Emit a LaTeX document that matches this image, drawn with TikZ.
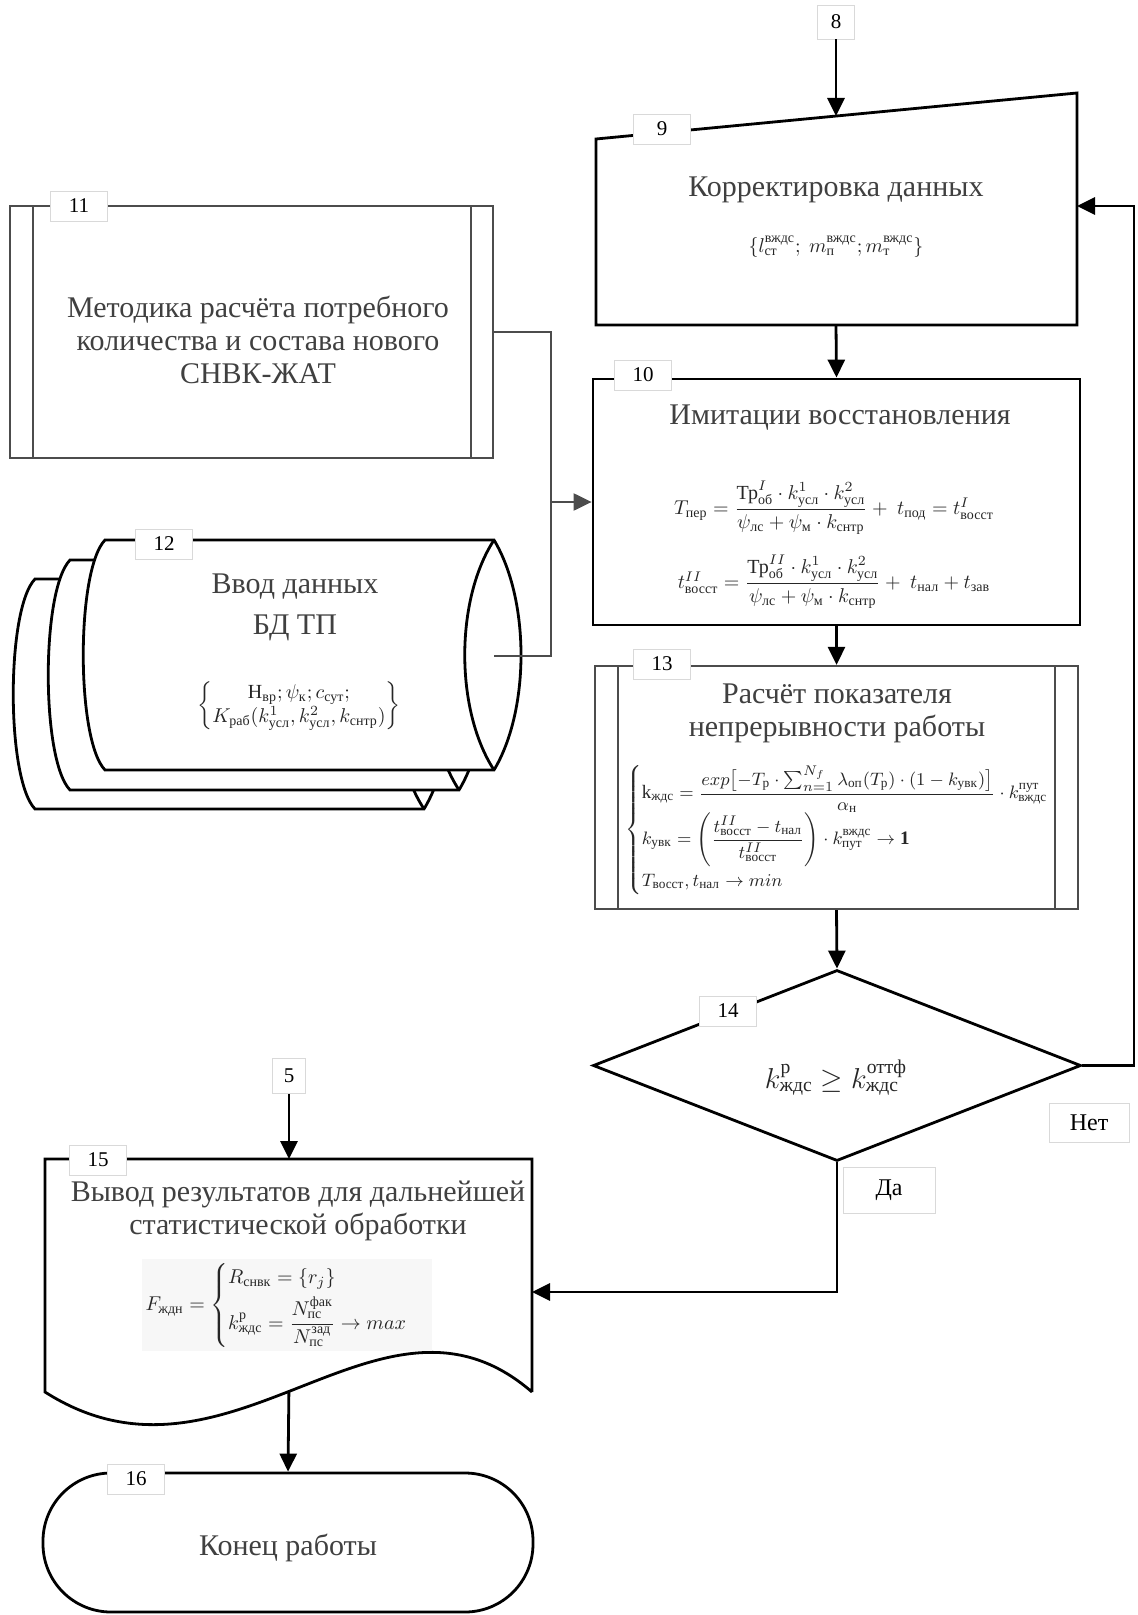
\documentclass[tikz,border=0pt]{standalone}
\usepackage{fontspec}
\setmainfont{Liberation Serif}
\usepackage{amsmath}
\usetikzlibrary{arrows.meta,fit,shapes.geometric}

\newcommand{\cy}[1]{\text{#1}}

\begin{document}
\begin{tikzpicture}[x=0.5pt, y=-0.5pt, >={Triangle[length=9pt,width=8.5pt]},
    blk/.style={draw=black, line width=1.4pt},
    gblk/.style={draw=black!70, line width=1.1pt},
    con/.style={line width=1.4pt},
    gcon/.style={draw=black!70, line width=1.1pt},
    tab/.style={draw=black!15, fill=white, line width=0.4pt, inner sep=1pt,
        minimum width=28.5pt, minimum height=15pt, font=\fontsize{10.5}{12}\selectfont},
    ttl/.style={align=center, text=black!75, font=\fontsize{15}{16.5}\selectfont},
    frm/.style={text=black!85, font=\fontsize{10}{12}\selectfont}]

    \useasboundingbox (0,0) rectangle (1138,1615);

    % --- ПРАВАЯ КОЛОНКА ---
    % Блок 9 (ручной ввод)
    \draw[blk] (596,139) -- (1077,93) -- (1077,325) -- (596,325) -- cycle;
    \coordinate (b9n) at (836,116);
    \coordinate (b9s) at (836,325);
    \coordinate (b9e) at (1077,206);
    \node[ttl] (t9) at (836,190) {Корректировка данных};
    \node[frm] (f9) at (836,247)
        {$\{l^{\cy{вждс}}_{\cy{ст}};\ m^{\cy{вждс}}_{\cy{п}}; m^{\cy{вждс}}_{\cy{т}}\}$};

    % Блок 10
    \node[blk, fit={(593,379) (1080,625)}, inner sep=0pt] (b10) {};
    \node[ttl] (t10) at (840,418) {Имитации восстановления};
    \node[frm] (f10a) at (834,508)
        {$T_{\cy{пер}} = \dfrac{\text{Тр}^{I}_{\cy{об}}\cdot k^1_{\cy{усл}}\cdot k^2_{\cy{усл}}}{\psi_{\cy{лс}}+\psi_{\cy{м}}\cdot k_{\cy{снтр}}} +\ t_{\cy{под}} = t^{I}_{\cy{восст}}$};
    \node[frm] (f10b) at (834,582)
        {$t^{II}_{\cy{восст}} = \dfrac{\text{Тр}^{II}_{\cy{об}}\cdot k^1_{\cy{усл}}\cdot k^2_{\cy{усл}}}{\psi_{\cy{лс}}+\psi_{\cy{м}}\cdot k_{\cy{снтр}}} +\ t_{\cy{нал}} + t_{\cy{зав}}$};

    % Блок 13 (предопределённый процесс)
    \node[gblk, fit={(595,666) (1078,909)}, inner sep=0pt] (b13) {};
    \draw[gblk] (618,666) -- (618,909);
    \draw[gblk] (1055,666) -- (1055,909);
    \node[ttl] (t13) at (837,713) {Расчёт показателя\\непрерывности работы};
    \node[frm, anchor=west, inner sep=0pt, font=\fontsize{9.5}{11.5}\selectfont] (f13) at (625,830)
        {$\begin{cases}
        \text{k}_{\cy{ждс}} = \dfrac{exp\bigl[-T_{\cy{р}}\cdot\sum\nolimits_{n=1}^{N_f}\lambda_{\cy{оп}}(T_{\cy{р}})\cdot(1-k_{\cy{увк}})\bigr]}{\alpha_{\cy{н}}}\cdot k^{\cy{пут}}_{\cy{вждс}}\\
        k_{\cy{увк}} = \left(\dfrac{t^{II}_{\cy{восст}}-t_{\cy{нал}}}{t^{II}_{\cy{восст}}}\right)\cdot k^{\cy{вждс}}_{\cy{пут}}\to \mathbf{1}\\
        T_{\cy{восст}}, t_{\cy{нал}}\to min
        \end{cases}$};

    % Блок 14 (условие)
    \node[blk, diamond, minimum width=244pt, minimum height=95.5pt, inner sep=0pt] (d14) at (837,1065.5) {};
    \node[frm, font=\fontsize{14}{16}\selectfont] (f14) at (836,1078)
        {$k^{\cy{р}}_{\cy{ждс}} \geq k^{\cy{оттф}}_{\cy{ждс}}$};

    % --- ЛЕВАЯ КОЛОНКА ---
    % Блок 11
    \node[gblk, fit={(10,206) (493,458)}, inner sep=0pt] (b11) {};
    \draw[gblk] (33,206) -- (33,458);
    \draw[gblk] (471,206) -- (471,458);
    \node[ttl] (t11) at (258,340)
        {Методика расчёта потребного\\количества и состава нового\\СНВК-ЖАТ};

    % Блок 12 (три барабана)
    \foreach \dx/\dy in {-70/39, -35/20, 0/0} {
        \begin{scope}[shift={(\dx,\dy)}]
            \draw[blk, fill=white] (105,540) -- (494,540)
                .. controls (530,600) and (530,710) .. (494,770) -- (105,770)
                .. controls (76,740) and (76,570) .. cycle;
            \draw[blk] (494,540) .. controls (455,600) and (455,710) .. (494,770);
        \end{scope}
    }
    \coordinate (d12e) at (494,656);
    \node[ttl] (t12) at (295,607) {Ввод данных\\[4pt]БД ТП};
    \node[frm] (f12) at (299,706)
        {$\left\{\begin{matrix}\text{Н}_{\cy{вр}}; \psi_{\cy{к}}; c_{\cy{сут}};\\ K_{\cy{раб}}(k^1_{\cy{усл}}, k^2_{\cy{усл}}, k_{\cy{снтр}})\end{matrix}\right\}$};

    % Блок 15 (документ)
    \draw[blk] (532,1392) -- (532,1159) -- (45,1159) -- (45,1392)
        .. controls (230,1510) and (380,1260) .. (532,1392) coordinate[pos=0.475] (w15);
    \coordinate (b15n) at (289,1159);
    \coordinate (b15e) at (532,1292);
    \node[ttl] (t15) at (298,1211) {Вывод результатов для дальнейшей\\статистической обработки};
    \node[frm, fill=black!3, inner sep=2pt] (f15) at (287,1305)
        {$F_{\cy{ждн}} = \begin{cases} R_{\cy{снвк}} = \{r_j\}\\[2pt] k^{\cy{р}}_{\cy{ждс}} = \dfrac{N^{\cy{фак}}_{\cy{пс}}}{N^{\cy{зад}}_{\cy{пс}}}\to max\end{cases}$};

    % Блок 16 (конец)
    \node[blk, rounded corners=34pt, fit={(43,1473) (533,1612)}, inner sep=0pt] (b16) {};
    \node[ttl] (t16) at (288,1548) {Конец работы};

    % --- НОМЕРА БЛОКОВ ---
    \node[tab, minimum width=18.5pt, minimum height=17pt] (t8) at (836,22) {8};
    \node[tab, minimum width=16.5pt, minimum height=17.5pt] (t5) at (289,1076) {5};
    \node[tab] at (662,129) {9};
    \node[tab] at (643,375) {10};
    \node[tab] at (79,206) {11};
    \node[tab] at (164,544) {12};
    \node[tab] at (662,664) {13};
    \node[tab] at (728,1011) {14};
    \node[tab] at (98,1160) {15};
    \node[tab] at (136,1479) {16};

    % --- СВЯЗИ ---
    \draw[con, ->] (t8) -- (b9n);
    \draw[con, ->] (b9s) -- (b10.north);
    \draw[con, ->] (b10.south) -- (b13.north);
    \draw[con, ->] (b13.south) -- (d14.north);
    \coordinate (rgt) at (1134,0);
    \draw[con, ->] (d14.east) -| (rgt |- b9e) -- (b9e);
    \draw[con, ->] (d14.south) |- (b15e);
    \draw[con, ->] (t5) -- (b15n);
    \draw[con, ->] (w15) -- (b16.north);

    \coordinate (jn) at (551,502);
    \draw[gcon] (b11.east) -| (jn);
    \draw[gcon] (d12e) -| (jn);
    \draw[gcon, ->] (jn) -- (b10.west);

    % Подписи ветвей
    \node[tab, font=\fontsize{12}{14}\selectfont, minimum width=40pt, minimum height=19.5pt] (no) at (1089,1123) {Нет};
    \node[tab, font=\fontsize{12}{14}\selectfont, minimum width=46pt, minimum height=23pt] (yes) at (889,1190) {Да};

\end{tikzpicture}
\end{document}
